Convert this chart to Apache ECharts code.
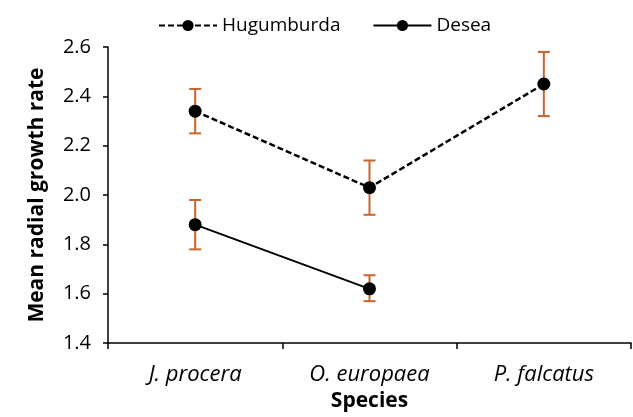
<!DOCTYPE html>
<html><head><meta charset="utf-8">
<script src="https://cdn.jsdelivr.net/npm/echarts@6/dist/echarts.min.js"></script>
<style>html,body{margin:0;padding:0;background:#fff}#c{width:633px;height:417px}</style>
</head><body><div id="c"></div>
<script>
const categories = ['J. procera', 'O. europaea', 'P. falcatus'];
const hugMean = [2.34, 2.03, 2.45];
const hugLow = [2.25, 1.92, 2.32];
const hugHigh = [2.43, 2.14, 2.58];
const deseaMean = [1.88, 1.62, null];
const deseaLow = [1.78, 1.57, null];
const deseaHigh = [1.98, 1.675, null];
const yTicks = [1.4, 1.6, 1.8, 2.0, 2.2, 2.4, 2.6];

const errColor = '#C9652B';
function errData(low, high) {
  const out = [];
  for (let i = 0; i < low.length; i++) if (low[i] != null) out.push([i, low[i], high[i]]);
  return out;
}
function renderErr(params, api) {
  const x = api.value(0);
  const lo = api.coord([x, api.value(1)]);
  const hi = api.coord([x, api.value(2)]);
  const w = 6;
  const st = { stroke: errColor, lineWidth: 2 };
  return { type: 'group', children: [
    { type: 'line', shape: { x1: lo[0], y1: lo[1], x2: hi[0], y2: hi[1] }, style: st },
    { type: 'line', shape: { x1: lo[0] - w, y1: lo[1], x2: lo[0] + w, y2: lo[1] }, style: st },
    { type: 'line', shape: { x1: hi[0] - w, y1: hi[1], x2: hi[0] + w, y2: hi[1] }, style: st }
  ]};
}
const font = '"Open Sans", "Liberation Sans", sans-serif';
const chart = echarts.init(document.getElementById('c'));
chart.setOption({
  animation: false,
  textStyle: { fontFamily: font },
  legend: {
    top: 11, left: 153, itemGap: 32, itemWidth: 58, itemHeight: 14,
    textStyle: { fontSize: 19, color: '#000', fontFamily: font },
    data: ['Hugumburda', 'Desea']
  },
  grid: { left: 108, right: 2, top: 47, bottom: 70 },
  xAxis: {
    type: 'category', data: categories, boundaryGap: true,
    axisLine: { lineStyle: { color: '#000', width: 1.5 } },
    axisTick: { show: true, length: 6, lineStyle: { color: '#000', width: 1.5 } },
    axisLabel: { fontSize: 22, fontStyle: 'italic', color: '#000', margin: 21, fontFamily: font },
    name: 'Species', nameLocation: 'middle', nameGap: 47,
    nameTextStyle: { fontSize: 21, fontWeight: 'bold', color: '#000', fontFamily: font }
  },
  yAxis: {
    type: 'value', min: yTicks[0], max: yTicks[yTicks.length - 1], interval: 0.2,
    splitLine: { show: false },
    axisLine: { show: true, lineStyle: { color: '#000', width: 1.5 } },
    axisTick: { show: true, length: 5, lineStyle: { color: '#000', width: 1.5 } },
    axisLabel: { fontSize: 20, color: '#000', margin: 17, formatter: v => v.toFixed(1), fontFamily: font },
    name: 'Mean radial growth rate', nameLocation: 'middle', nameGap: 60,
    nameTextStyle: { fontSize: 21, fontWeight: 'bold', color: '#000', fontFamily: font }
  },
  series: [
    { name: 'Hugumburda', type: 'line', data: hugMean, symbol: 'circle', symbolSize: 13,
      itemStyle: { color: '#000' }, lineStyle: { color: '#000', width: 2.5, type: [6, 3] }, z: 3 },
    { name: 'Desea', type: 'line', data: deseaMean, symbol: 'circle', symbolSize: 13,
      itemStyle: { color: '#000' }, lineStyle: { color: '#000', width: 2 }, z: 3 },
    { type: 'custom', data: errData(hugLow, hugHigh), renderItem: renderErr, z: 2, encode: { x: 0, y: [1, 2] } },
    { type: 'custom', data: errData(deseaLow, deseaHigh), renderItem: renderErr, z: 2, encode: { x: 0, y: [1, 2] } }
  ]
});
</script></body></html>
